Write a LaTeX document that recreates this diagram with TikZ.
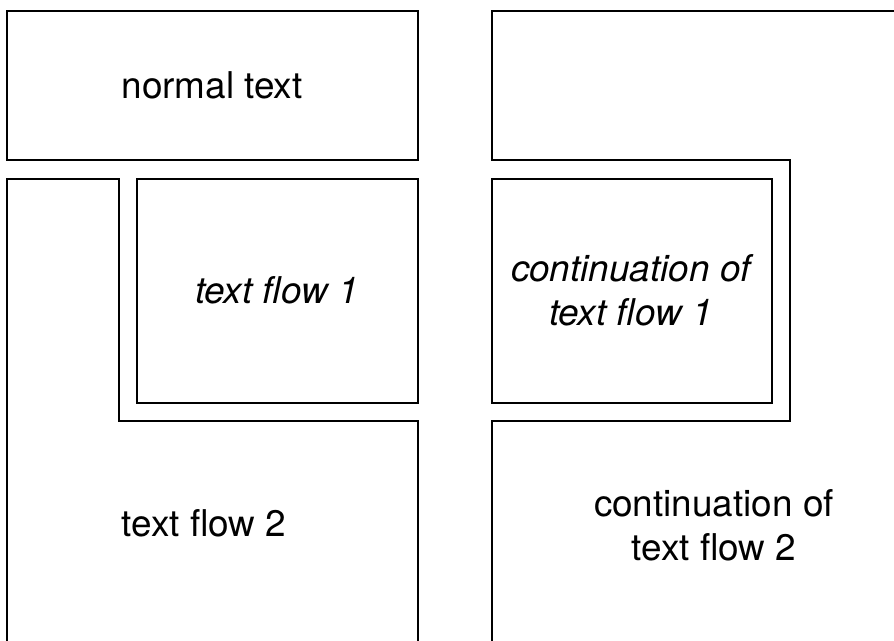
\documentclass[tikz,border=0pt]{standalone}
\usepackage{fontspec}
\setmainfont{TeX Gyre Heros}
\usepackage{tikz}

\tikzset{
    frame/.style={line width=0.7pt,line join=miter},
    label/.style={inner sep=0pt,anchor=base,align=center,font=\fontsize{21}{25.6}\selectfont},
    flowlabel/.style={label,font=\fontsize{21}{25.6}\selectfont\itshape}
}

\begin{document}
\begin{tikzpicture}[x=0.02cm,y=-0.02cm]
    \useasboundingbox (0,0) rectangle (894,641);
    % left column
    \draw[frame] (7,11) rectangle (418,160);
    \draw[frame] (137,179) rectangle (418,403);
    \draw[frame] (7,645) -- (7,179) -- (119,179) -- (119,421) -- (418,421) -- (418,645);
    % right column
    \draw[frame] (898,11) -- (492,11) -- (492,160) -- (790,160) -- (790,421) -- (492,421) -- (492,645);
    \draw[frame] (492,179) rectangle (772,403);
    % texts
    \node[label] (normal) at (212,99) {normal text};
    \node[flowlabel] (flowone) at (277,304) {text flow 1};
    \node[flowlabel] (flowonecont) at (631,326) {continuation of\\text flow 1};
    \node[label] (flowtwo) at (204,537) {text flow 2};
    \node[label] (flowtwocont) at (714,561) {continuation of\\text flow 2};
\end{tikzpicture}
\end{document}
